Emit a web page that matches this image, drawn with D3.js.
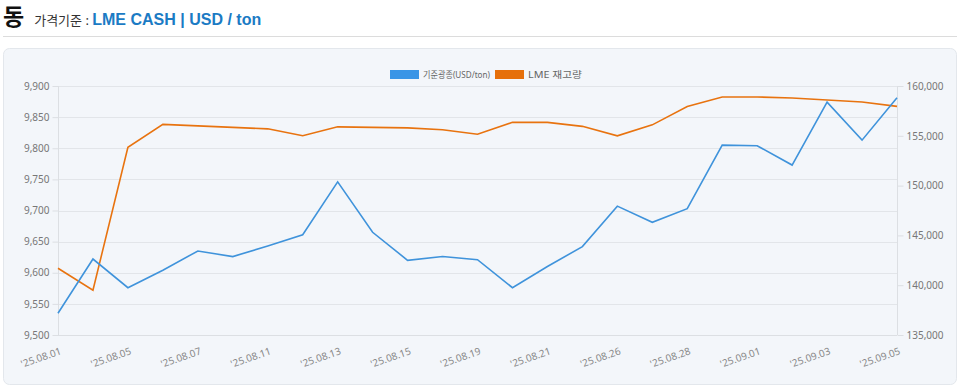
<!DOCTYPE html>
<html>
<head>
<meta charset="utf-8">
<script src="https://cdn.jsdelivr.net/npm/d3@7"></script>
<style>
  body { margin: 0; background: #fff; font-family: "Noto Sans", "Noto Sans CJK KR", sans-serif; }
  #chart { position: relative; width: 960px; height: 387px; }
</style>
</head>
<body>
<div id="chart"></div>
<script>
const w = 960;
const h = 387;

// plot area
const pLeft = 58, pRight = 897, pTop = 86, pBottom = 335;

// data
const dates = ["'25.08.01","'25.08.04","'25.08.05","'25.08.06","'25.08.07","'25.08.08","'25.08.11","'25.08.12",
  "'25.08.13","'25.08.14","'25.08.15","'25.08.18","'25.08.19","'25.08.20","'25.08.21","'25.08.22",
  "'25.08.26","'25.08.27","'25.08.28","'25.08.29","'25.09.01","'25.09.02","'25.09.03","'25.09.04","'25.09.05"];
const cash = [9535, 9622, 9576, 9604, 9635, 9626, 9643, 9661, 9746, 9665, 9620, 9626, 9621,
  9576, 9610, 9642, 9707, 9681, 9703, 9805, 9804, 9773, 9874, 9813, 9881];
const stock = [141700, 139500, 153850, 156150, 156000, 155850, 155700, 155000, 155900, 155850,
  155800, 155600, 155150, 156350, 156350, 155950, 155000, 156100, 157950, 158900, 158900,
  158800, 158600, 158400, 157950];
const leftTicks = [9500, 9550, 9600, 9650, 9700, 9750, 9800, 9850, 9900];
const rightTicks = [135000, 140000, 145000, 150000, 155000, 160000];
const seriesNames = ["기준광종(USD/ton)", "LME 재고량"];
const colors = ["#3f93db", "#e8730f"];

const svg = d3.select("#chart").append("svg")
  .attr("width", w).attr("height", h);

// header
const title = svg.append("text").attr("x", 3).attr("y", 25);
title.append("tspan").text("동")
  .style("font-size", "23px").style("font-weight", "bold").attr("fill", "#111");
title.append("tspan").text("가격기준 : ").attr("dx", 10)
  .style("font-size", "13px").attr("fill", "#333");
title.append("tspan").text("LME CASH | USD / ton")
  .style("font-size", "16px").style("font-weight", "bold").attr("fill", "#1b7bc4")
  .style("font-family", "Liberation Sans, Arial, sans-serif");

svg.append("line")
  .attr("x1", 3).attr("x2", 957).attr("y1", 36.5).attr("y2", 36.5)
  .attr("stroke", "#dcdcdc");

// card
svg.append("rect")
  .attr("x", 3.5).attr("y", 48.5).attr("width", 953).attr("height", 336)
  .attr("rx", 6)
  .attr("fill", "#f3f6fa").attr("stroke", "#e3e7ec");

// scales
const x = d3.scalePoint().domain(dates).range([pLeft, pRight]);
const yL = d3.scaleLinear().domain([9500, 9900]).range([pBottom, pTop]);
const yR = d3.scaleLinear().domain([135000, 160000]).range([pBottom, pTop]);

// grid
svg.append("g").selectAll("line")
  .data(leftTicks).join("line")
  .attr("x1", pLeft).attr("x2", pRight)
  .attr("y1", d => Math.round(yL(d)) + 0.5).attr("y2", d => Math.round(yL(d)) + 0.5)
  .attr("stroke", "#e2e5e9");

const fmt = d3.format(",");

// left axis
const axL = svg.append("g")
  .attr("transform", `translate(${pLeft + 0.5},0)`)
  .call(d3.axisLeft(yL).tickValues(leftTicks).tickFormat(fmt).tickSize(6).tickPadding(3));
axL.select(".domain").attr("stroke", "#dcdfe3").attr("d", `M0,${pTop}V${pBottom}`);
axL.selectAll(".tick line").attr("stroke", "#dcdfe3");
axL.selectAll("text").attr("fill", "#777").style("font-size", "10px")
  .style("font-family", "Noto Sans, sans-serif");

// right axis
const axR = svg.append("g")
  .attr("transform", `translate(${pRight + 0.5},0)`)
  .call(d3.axisRight(yR).tickValues(rightTicks).tickFormat(fmt).tickSize(6).tickPadding(3));
axR.select(".domain").attr("stroke", "#dcdfe3").attr("d", `M0,${pTop}V${pBottom}`);
axR.selectAll(".tick line").attr("stroke", "#dcdfe3");
axR.selectAll("text").attr("fill", "#777").style("font-size", "10px")
  .style("font-family", "Noto Sans, sans-serif");

// bottom line
svg.append("line")
  .attr("x1", pLeft).attr("x2", pRight).attr("y1", pBottom + 0.5).attr("y2", pBottom + 0.5)
  .attr("stroke", "#dcdfe3");

// x labels (every other date)
svg.append("g").selectAll("text")
  .data(dates.filter((d, i) => i % 2 === 0)).join("text")
  .attr("transform", d => `translate(${x(d) + 4},${pBottom + 19}) rotate(-19)`)
  .attr("text-anchor", "end")
  .attr("fill", "#888")
  .style("font-size", "10px")
  .text(d => d);

// lines
const lineL = d3.line().x((d, i) => x(dates[i])).y(d => yL(d));
const lineR = d3.line().x((d, i) => x(dates[i])).y(d => yR(d));

svg.append("path").datum(stock)
  .attr("d", lineR).attr("fill", "none")
  .attr("stroke", colors[1]).attr("stroke-width", 1.6);
svg.append("path").datum(cash)
  .attr("d", lineL).attr("fill", "none")
  .attr("stroke", colors[0]).attr("stroke-width", 1.6);

// legend
const legX = [390, 495];
const legW = [67, 54];
const leg = svg.append("g").selectAll("g")
  .data(seriesNames).join("g")
  .attr("transform", (d, i) => `translate(${legX[i]},70)`);
leg.append("rect").attr("width", 29).attr("height", 9)
  .attr("fill", (d, i) => i === 0 ? "#3a95e6" : "#e6700a");
leg.append("text").attr("x", 33).attr("y", 8)
  .attr("fill", "#666").style("font-size", "9px")
  .attr("textLength", (d, i) => legW[i]).attr("lengthAdjust", "spacingAndGlyphs")
  .text(d => d);
</script>
</body>
</html>
